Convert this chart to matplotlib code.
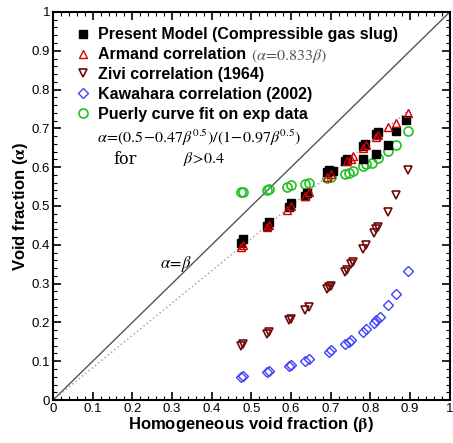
#!/usr/bin/env python3

import numpy as np
import matplotlib
matplotlib.use("Agg")
import matplotlib.pyplot as plt
from matplotlib.ticker import MultipleLocator

plt.rcParams['font.family'] = ['Liberation Sans', 'DejaVu Sans']
plt.rcParams['mathtext.fontset'] = 'stix'

# Present model (compressible gas slug)
beta_model = [0.475, 0.48, 0.54, 0.545, 0.595, 0.60, 0.635, 0.64, 0.69, 0.695,
              0.705, 0.735, 0.74, 0.78, 0.78, 0.785, 0.815, 0.815, 0.82, 0.845,
              0.865, 0.89]
alpha_model = [0.405, 0.415, 0.448, 0.458, 0.498, 0.508, 0.525, 0.533, 0.588, 0.592,
               0.590, 0.615, 0.620, 0.620, 0.655, 0.660, 0.633, 0.685, 0.690, 0.658,
               0.694, 0.722]

# Armand correlation
beta_armand = [0.475, 0.48, 0.54, 0.545, 0.59, 0.60, 0.635, 0.645, 0.69, 0.70,
               0.74, 0.75, 0.755, 0.78, 0.79, 0.815, 0.82, 0.845, 0.865, 0.895]
alpha_armand = [0.395, 0.400, 0.445, 0.450, 0.490, 0.500, 0.525, 0.535, 0.575, 0.583,
                0.615, 0.622, 0.630, 0.650, 0.658, 0.678, 0.683, 0.703, 0.714, 0.740]

# Zivi correlation (1964)
beta_zivi = [0.475, 0.48, 0.54, 0.545, 0.595, 0.60, 0.635, 0.645, 0.69, 0.695,
             0.70, 0.735, 0.74, 0.75, 0.755, 0.78, 0.79, 0.81, 0.815, 0.82,
             0.845, 0.865, 0.895]
alpha_zivi = [0.140, 0.145, 0.170, 0.175, 0.205, 0.210, 0.232, 0.240, 0.285, 0.290,
              0.295, 0.330, 0.335, 0.350, 0.355, 0.390, 0.400, 0.430, 0.440, 0.446,
              0.485, 0.528, 0.594]

# Kawahara correlation (2002)
beta_kawa = [0.475, 0.48, 0.54, 0.545, 0.595, 0.60, 0.635, 0.645, 0.695, 0.70,
             0.735, 0.745, 0.75, 0.78, 0.79, 0.81, 0.815, 0.825, 0.845, 0.865,
             0.895]
alpha_kawa = [0.060, 0.063, 0.072, 0.075, 0.087, 0.090, 0.100, 0.105, 0.125, 0.130,
              0.145, 0.150, 0.155, 0.175, 0.183, 0.198, 0.205, 0.215, 0.245, 0.273,
              0.332]

# Purely curve fit on exp data
beta_fit = [0.475, 0.48, 0.54, 0.545, 0.59, 0.60, 0.635, 0.645, 0.69, 0.70,
            0.735, 0.745, 0.755, 0.78, 0.79, 0.805, 0.82, 0.845, 0.865, 0.895]
alpha_fit = [0.535, 0.535, 0.540, 0.545, 0.550, 0.553, 0.557, 0.560, 0.572, 0.576,
             0.582, 0.586, 0.590, 0.602, 0.607, 0.612, 0.623, 0.643, 0.658, 0.694]

# reference lines
diag_beta = np.array([0.0, 1.0])
armand_beta = np.array([0.0, 0.9])
ticks = np.arange(0, 1.01, 0.1)
tick_labels = ['0', '0.1', '0.2', '0.3', '0.4', '0.5', '0.6', '0.7', '0.8', '0.9', '1']


def void_fraction_plot():
    fig = plt.figure(figsize=(4.53, 4.43), dpi=100)
    ax = fig.add_axes([0.117, 0.097, 0.876, 0.876])

    ax.plot(diag_beta, diag_beta, color='#555555', lw=1.0, zorder=1)
    ax.plot(armand_beta, 0.833*armand_beta, color='#999999', lw=1.0,
            ls=(0, (1, 2)), zorder=1)

    ax.plot(beta_model, alpha_model, 's', color='black', ms=5.5, ls='none',
            label='Present Model (Compressible gas slug)', zorder=3)
    ax.plot(beta_armand, alpha_armand, '^', mfc='none', mec='#d40000', ms=6,
            mew=1.0, ls='none', label='Armand correlation', zorder=4)
    ax.plot(beta_zivi, alpha_zivi, 'v', mfc='none', mec='#6e0a0a', ms=6,
            mew=1.2, ls='none', label='Zivi correlation (1964)', zorder=3)
    ax.plot(beta_kawa, alpha_kawa, 'D', mfc='none', mec='#4040ff', ms=5,
            mew=1.0, ls='none', label='Kawahara correlation (2002)', zorder=3)
    ax.plot(beta_fit, alpha_fit, 'o', mfc='none', mec='#22c022', ms=6.5,
            mew=1.2, ls='none', label='Puerly curve fit on exp data', zorder=2)

    ax.legend(loc='upper left', bbox_to_anchor=(0.055, 0.96),
              frameon=False, borderpad=0, borderaxespad=0,
              handlelength=1.0, handletextpad=0.45, labelspacing=0.3,
              prop={'weight': 'bold', 'size': 11.5})

    ax.text(0.50, 0.886, r'$(\alpha\!=\!0.833\beta)$', transform=ax.transAxes,
            fontsize=11.5, color='#555555', ha='left', va='center')
    ax.text(0.11, 0.675, r'$\alpha\!=\!(0.5\!-\!0.47\beta^{0.5})/(1\!-\!0.97\beta^{0.5})$',
            transform=ax.transAxes, fontsize=11.5, ha='left', va='center')
    ax.text(0.151, 0.62, 'for', transform=ax.transAxes,
            fontsize=11.5, family='serif', ha='left', va='center')
    ax.text(0.327, 0.62, r'$\beta\!>\!0.4$', transform=ax.transAxes,
            fontsize=11.5, ha='left', va='center')
    ax.text(0.27, 0.35, r'$\alpha\!=\!\beta$', transform=ax.transAxes,
            fontsize=12, ha='left', va='center')

    ax.set_xlim(0, 1)
    ax.set_ylim(0, 1)
    ax.set_xticks(ticks)
    ax.set_yticks(ticks)
    ax.set_xticklabels(tick_labels)
    ax.set_yticklabels(tick_labels)
    ax.xaxis.set_minor_locator(MultipleLocator(0.02))
    ax.yaxis.set_minor_locator(MultipleLocator(0.02))
    ax.tick_params(which='both', direction='in', top=True, right=True,
                   labelsize=9.5, pad=2)
    ax.tick_params(which='major', length=6, width=1.2)
    ax.tick_params(which='minor', length=3, width=0.8)
    for s in ax.spines.values():
        s.set_linewidth(1.5)

    ax.set_xlabel(r'Homogeneous void fraction ($\mathbf{\beta}$)', fontsize=12,
                  fontweight='bold', labelpad=0)
    ax.set_ylabel(r'Void fraction ($\mathbf{\alpha}$)', fontsize=12,
                  fontweight='bold', labelpad=1)

    fig.savefig('out.png', dpi=100)


if __name__ == "__main__":
    void_fraction_plot()
